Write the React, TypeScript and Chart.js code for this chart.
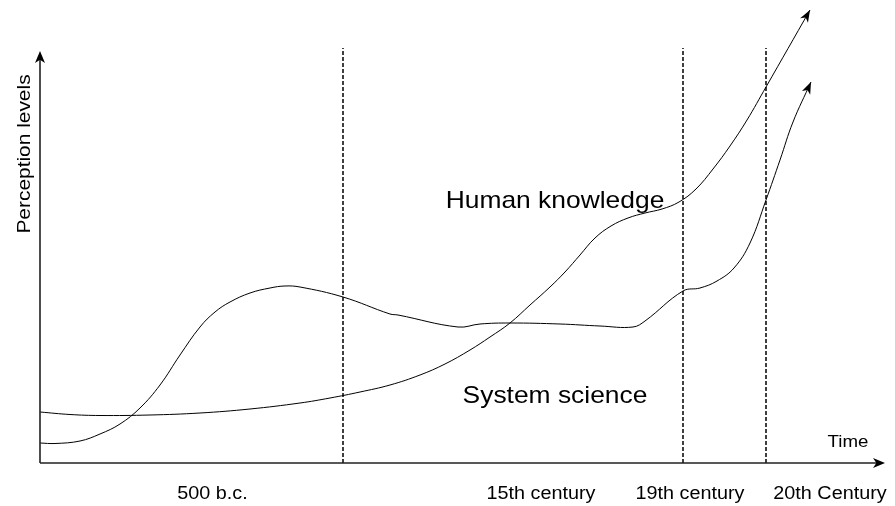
import React, { useEffect, useRef } from 'react';
import { Chart, registerables } from 'chart.js';

Chart.register(...registerables);

// Conceptual axes: time runs 0..845, perception level 0..458
const TIME_MAX = 845;
const LEVEL_MAX = 458;
const TIME_AXIS_END = 845;
const LEVEL_AXIS_END = 412;

// Human knowledge curve
const humanKnowledgeTime = [0, 30, 60, 110, 160, 210, 260, 290, 320, 350, 380, 405, 430, 450, 470, 490, 510, 525, 540, 555, 571, 588, 605, 622, 639, 656, 673, 690, 707, 726, 770];
const humanKnowledgeLevel = [51, 48.5, 47.5, 48, 50, 54, 60, 65, 71, 78, 88, 99, 113, 126, 140, 158, 176, 191, 208, 225, 237, 245, 250, 254, 261, 274, 294, 317, 343, 376, 453];

// System science curve
const systemScienceTime = [0, 15, 40, 60, 80, 100, 120, 140, 160, 175, 190, 210, 230, 245, 260, 303, 350, 358, 418, 440, 470, 520, 560, 593, 605, 643, 660, 677, 694, 710, 726, 740, 753, 771];
const systemScienceLevel = [20, 19.5, 22, 29, 39, 55, 78, 108, 136, 151, 161, 170, 175, 177, 176, 166, 149, 148, 136, 139, 140, 139, 137, 136, 142, 172, 175, 182, 195, 220, 263, 303, 341, 381];

// Era boundaries (dashed lines)
const eraBoundaries = [303, 643, 726];
const eraLineTop = 415;

// Era labels along the time axis
const eraLabels = ['500 b.c.', '15th century', '19th century', '20th Century'];
const eraLabelTime = [172.5, 501, 650, 790];

const FONT = '"Liberation Sans", Arial, Helvetica, sans-serif';

function drawArrow(ctx: CanvasRenderingContext2D, x: number, y: number, angle: number, len: number, half: number) {
  ctx.save();
  ctx.translate(x, y);
  ctx.rotate(angle);
  ctx.beginPath();
  ctx.moveTo(0, 0);
  ctx.lineTo(-len, -half);
  ctx.lineTo(-len * 0.72, 0);
  ctx.lineTo(-len, half);
  ctx.closePath();
  ctx.fillStyle = '#000';
  ctx.fill();
  ctx.restore();
}

function drawText(ctx: CanvasRenderingContext2D, text: string, x: number, y: number, size: number, rotate = 0, baseline: CanvasTextBaseline = 'alphabetic') {
  ctx.save();
  ctx.translate(x, y);
  if (rotate) ctx.rotate(rotate);
  ctx.scale(1.1, 1);
  ctx.font = `${size}px ${FONT}`;
  ctx.fillStyle = '#000';
  ctx.textAlign = 'center';
  ctx.textBaseline = baseline;
  ctx.fillText(text, 0, 0);
  ctx.restore();
}

const decorPlugin = {
  id: 'decor',
  afterDatasetsDraw(chart: any) {
    const ctx: CanvasRenderingContext2D = chart.ctx;
    const xs = chart.scales.x;
    const ys = chart.scales.y;
    const x0 = xs.getPixelForValue(0);
    const y0 = ys.getPixelForValue(0);
    const xe = xs.getPixelForValue(TIME_AXIS_END);
    const ye = ys.getPixelForValue(LEVEL_AXIS_END);

    ctx.save();
    ctx.strokeStyle = '#222';
    ctx.lineWidth = 1.6;
    ctx.beginPath();
    ctx.moveTo(x0, y0);
    ctx.lineTo(xe - 8, y0);
    ctx.moveTo(x0, y0);
    ctx.lineTo(x0, ye + 8);
    ctx.stroke();
    ctx.restore();
    drawArrow(ctx, xe, y0, 0, 12, 5);
    drawArrow(ctx, x0, ye, -Math.PI / 2, 12, 5);

    chart.data.datasets.forEach((ds: any, i: number) => {
      if (!ds.arrowEnd) return;
      const pts = chart.getDatasetMeta(i).data;
      const p = pts[pts.length - 1];
      const q = pts[pts.length - 2];
      let dx = p.x - (p.cp1x ?? q.x);
      let dy = p.y - (p.cp1y ?? q.y);
      if (Math.abs(dx) + Math.abs(dy) < 0.5) {
        dx = p.x - q.x;
        dy = p.y - q.y;
      }
      drawArrow(ctx, p.x, p.y, Math.atan2(dy, dx), 12, 4.5);
    });

    // labels
    drawText(ctx, 'Human knowledge', 555, 208, 24);
    drawText(ctx, 'System science', 555, 403, 24);
    drawText(ctx, 'Time', 848, 447, 17);
    drawText(ctx, 'Perception levels', 30, 154, 19, -Math.PI / 2);
    eraLabels.forEach((lab, i) => {
      drawText(ctx, lab, xs.getPixelForValue(eraLabelTime[i]), 499, 18);
    });
  },
};

export default function App() {
  const ref = useRef<HTMLCanvasElement | null>(null);

  useEffect(() => {
    if (!ref.current) return;
    const curve = (xs: number[], ys: number[]) => xs.map((x, i) => ({ x, y: ys[i] }));
    const datasets: any[] = [
      {
        label: 'Human knowledge',
        data: curve(humanKnowledgeTime, humanKnowledgeLevel),
        borderColor: '#000',
        borderWidth: 1,
        tension: 0.4,
        pointRadius: 0,
        fill: false,
        clip: false,
        arrowEnd: true,
      },
      {
        label: 'System science',
        data: curve(systemScienceTime, systemScienceLevel),
        borderColor: '#000',
        borderWidth: 1,
        tension: 0.4,
        pointRadius: 0,
        fill: false,
        clip: false,
        arrowEnd: true,
      },
      ...eraBoundaries.map((t) => ({
        label: 'era',
        data: [
          { x: t, y: 0 },
          { x: t, y: eraLineTop },
        ],
        borderColor: '#000',
        borderWidth: 1.5,
        borderDash: [4, 2],
        pointRadius: 0,
        tension: 0,
        fill: false,
        clip: false,
      })),
    ];

    const chart = new Chart(ref.current, {
      type: 'line',
      data: { datasets },
      options: {
        responsive: false,
        animation: false,
        events: [],
        layout: { padding: { left: 40, right: 10, top: 5, bottom: 43 } },
        scales: {
          x: { type: 'linear', min: 0, max: TIME_MAX, display: false },
          y: { type: 'linear', min: 0, max: LEVEL_MAX, display: false },
        },
        plugins: { legend: { display: false }, tooltip: { enabled: false } },
      },
      plugins: [decorPlugin],
    } as any);

    return () => chart.destroy();
  }, []);

  return (
    <div style={{ position: 'absolute', left: 0, top: 0, width: 895, height: 506, background: '#fff' }}>
      <canvas ref={ref} width={895} height={506} style={{ display: 'block', width: 895, height: 506 }} />
    </div>
  );
}
